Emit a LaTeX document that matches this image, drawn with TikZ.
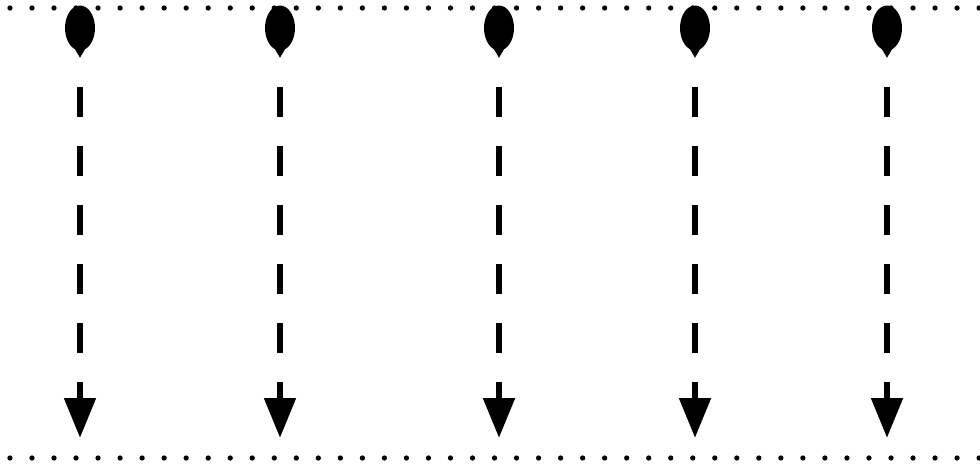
\documentclass[tikz,border=0pt]{standalone}
\usetikzlibrary{arrows.meta,shapes.geometric}

\begin{document}
\begin{tikzpicture}[
  x=0.03cm,y=-0.03cm,
  drop/.style={ellipse,fill=black,inner sep=0pt,minimum width=0.9cm,minimum height=1.35cm},
  flow/.style={draw,line width=5.5pt,dash pattern=on 25.6pt off 24.8pt,dash phase=25.6pt,
    shorten <=6pt,-{Triangle[length=34pt,width=26pt]}},
  rim/.style={draw,line width=4.5pt,line cap=round,dash pattern=on 0pt off 18.8pt,dash phase=10.3pt}
]
\useasboundingbox (0,0) rectangle (980,468);
% dotted top and bottom lines
\coordinate (tl) at (0,8);
\coordinate (tr) at (980,8);
\coordinate (bl) at (0,458);
\coordinate (br) at (980,458);
\draw[rim] (tl) -- (tr);
\draw[rim] (bl) -- (br);
% drops
\node[drop] (t1) at (80,28) {};
\node[drop] (t2) at (280,28) {};
\node[drop] (t3) at (499,28) {};
\node[drop] (t4) at (695,28) {};
\node[drop] (t5) at (887,28) {};
\foreach \n in {t1,t2,t3,t4,t5}
  \fill ([xshift=-7pt,yshift=6pt]\n.south) -- ([xshift=7pt,yshift=6pt]\n.south) -- ([yshift=-6pt]\n.south) -- cycle;
% arrow ends
\coordinate (b1) at (80,438);
\coordinate (b2) at (280,438);
\coordinate (b3) at (499,438);
\coordinate (b4) at (695,438);
\coordinate (b5) at (887,438);
\draw[flow] (t1.south) -- (b1);
\draw[flow] (t2.south) -- (b2);
\draw[flow] (t3.south) -- (b3);
\draw[flow] (t4.south) -- (b4);
\draw[flow] (t5.south) -- (b5);
\end{tikzpicture}
\end{document}
